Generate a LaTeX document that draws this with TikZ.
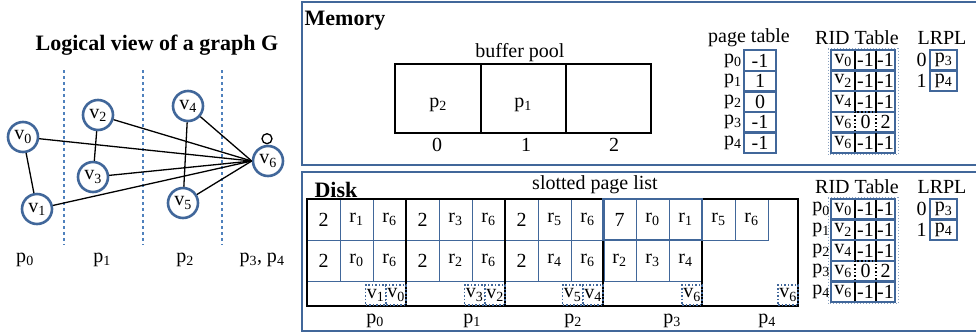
\documentclass[tikz,border=0pt]{standalone}
\usepackage{fontspec}
\setmainfont{Liberation Serif}
\usepackage{tikz}
\definecolor{nodeblue}{HTML}{41679A}
\definecolor{dashblue}{HTML}{4F81BD}
\newcommand{\ix}[2]{#1\textsubscript{#2}}

\begin{document}
\begin{tikzpicture}[x=1pt,y=-1pt,font=\fontsize{20}{24}\selectfont,
    vert/.style={circle,draw=nodeblue,line width=2.6pt,minimum size=30pt,inner sep=0pt},
    panel/.style={draw=nodeblue,line width=1.6pt},
    cell/.style={draw=nodeblue,line width=0.8pt,minimum width=33pt,minimum height=41pt,inner sep=0pt},
    slot/.style={draw=nodeblue,dotted,line width=1.5pt,minimum width=20pt,minimum height=20pt,inner sep=0pt},
    tab/.style={draw=nodeblue,line width=2.4pt,minimum height=20.6pt,inner sep=0pt},
    edge/.style={line width=1.3pt},
    caption/.style={inner sep=0pt},
    heading/.style={font=\fontsize{22}{26}\selectfont\bfseries}]
\useasboundingbox (0,0) rectangle (976,333);

% logical view of the graph
\node[heading] (title) at (157,45) {Logical view of a graph G};
\foreach \x in {64,143,222}
    \draw[dashblue,dashed,line width=1.5pt] (\x,70) -- (\x,245);
\node[vert] (v0) at (23,137) {\ix{v}{0}};
\node[vert] (v1) at (37,209) {\ix{v}{1}};
\node[vert] (v2) at (98,115) {\ix{v}{2}};
\node[vert] (v3) at (93,177) {\ix{v}{3}};
\node[vert] (v4) at (188,106) {\ix{v}{4}};
\node[vert] (v5) at (183,203) {\ix{v}{5}};
\node[vert] (v6) at (268,161) {\ix{v}{6}};
\draw[edge] (v0) -- (v1);
\draw[edge] (v2) -- (v3);
\draw[edge] (v4) -- (v5);
\foreach \v in {v0,v1,v2,v3,v4,v5}
    \draw[edge] (\v) -- (v6.west);
\draw[edge] (v6.north) ++(-1,-6) circle (5pt);
\node (gp0) at (25,260) {\ix{p}{0}};
\node (gp1) at (102,260) {\ix{p}{1}};
\node (gp2) at (185,260) {\ix{p}{2}};
\node (gp34) at (262,260) {\ix{p}{3}, \ix{p}{4}};

% memory
\draw[panel] (302,2) rectangle (990,165);
\node[heading] (mem) at (345,21) {Memory};
\node (bp) at (520,53) {buffer pool};
\draw[line width=2pt] (395,64) rectangle (651,133);
\draw[line width=2pt] (481,64) -- (481,133) (566,64) -- (566,133);
\node (b0) at (438,105) {\ix{p}{2}};
\node (b1) at (523,105) {\ix{p}{1}};
\foreach \i/\x in {0/437,1/526,2/614}
    \node (bi\i) at (\x,145) {\i};

\node[caption] (pt) at (749,38) {page table};
\foreach \v [count=\i from 0] in {-1,1,0,-1,-1} {
    \node[tab,minimum width=32pt] (pt\i) at (760,{60.5+20.6*\i}) {\v};
    \node[anchor=east,inner xsep=1pt,inner ysep=0pt] (ptl\i) at (pt\i.west) {\ix{p}{\i}};
}

% RID tables and LRPL, memory (y=50) and disk (y=199)
\foreach \y in {50,199} {
    \node[caption] (rt\y) at (857,{\y-12}) {RID Table};
    \node[caption] (lt\y) at (942,{\y-12}) {LRPL};
    \draw[nodeblue!60,dotted,line width=1pt] (828,{\y-1.5}) rectangle (898,{\y+104.5});
    \foreach \v/\a/\b [count=\i from 0] in {0/-1/-1,2/-1/-1,4/-1/-1,6/0/2,6/-1/-1} {
        \draw[nodeblue,line width=2.4pt] (831,{\y+20.6*\i}) rectangle (895,{\y+20.6*\i+20.6});
        \ifnum\i=3
            \draw[dotted,line width=1.6pt] (855,{\y+20.6*\i}) rectangle (876,{\y+20.6*\i+20.6});
        \else
            \draw[line width=2pt] (855,{\y+20.6*\i+1}) -- (855,{\y+20.6*\i+19.6})
                (876,{\y+20.6*\i+1}) -- (876,{\y+20.6*\i+19.6});
        \fi
        \node[caption] (rv\y\i) at (843,{\y+10.3+20.6*\i}) {\ix{v}{\v}};
        \node[caption] (ra\y\i) at (865.5,{\y+10.3+20.6*\i}) {\a};
        \node[caption] (rb\y\i) at (885.5,{\y+10.3+20.6*\i}) {\b};
    }
    \node[tab,minimum width=27pt] (lr\y0) at (943.5,{\y+10.3}) {\ix{p}{3}};
    \node[tab,minimum width=27pt] (lr\y1) at (943.5,{\y+30.9}) {\ix{p}{4}};
    \node[anchor=east,inner xsep=2pt,inner ysep=0pt] (li\y0) at (lr\y0.west) {0};
    \node[anchor=east,inner xsep=2pt,inner ysep=0pt] (li\y1) at (lr\y1.west) {1};
}
\foreach \i in {0,...,4}
    \node[anchor=east,inner xsep=1pt,inner ysep=0pt] (rl\i) at (831,{209.3+20.6*\i}) {\ix{p}{\i}};

% disk
\draw[panel] (302,172) rectangle (990,331);
\node[heading] (disk) at (336,190) {Disk};
\node (spl) at (595,185) {slotted page list};
\foreach \x/\t [count=\n] in {323.5/2,356.5/\ix{r}{1},389.5/\ix{r}{6},
        422.5/2,455.5/\ix{r}{3},488.5/\ix{r}{6},
        521.5/2,554.5/\ix{r}{5},587.5/\ix{r}{6},
        619.5/7,652.5/\ix{r}{0},685.5/\ix{r}{1},
        718.5/\ix{r}{5},751.5/\ix{r}{6}}
    \node[cell] (ca\n) at (\x,219.5) {\t};
\foreach \x/\t [count=\n] in {323.5/2,356.5/\ix{r}{0},389.5/\ix{r}{6},
        422.5/2,455.5/\ix{r}{2},488.5/\ix{r}{6},
        521.5/2,554.5/\ix{r}{4},587.5/\ix{r}{6},
        619.5/\ix{r}{2},652.5/\ix{r}{3},685.5/\ix{r}{4}}
    \node[cell] (cb\n) at (\x,260.5) {\t};
\draw[line width=2.2pt] (603,240) -- (603,306) (702,240) -- (702,306)
    (406,199) -- (406,306) (505,199) -- (505,306);
\draw[line width=2.2pt] (603,199) -- (307,199) -- (307,306) -- (798,306) -- (798,199) -- (702,199);
\draw[nodeblue,line width=1.5pt] (603,199) rectangle (702,240);
\foreach \x/\t [count=\n] in {375.5/1,396/0,474.5/3,495/2,572.5/5,593/4,692/6,788/6}
    \node[slot] (s\n) at (\x,295) {\ix{v}{\t}};
\foreach \x [count=\i from 0] in {375,472,573,672,767}
    \node (dp\i) at (\x,321) {\ix{p}{\i}};
\end{tikzpicture}
\end{document}
